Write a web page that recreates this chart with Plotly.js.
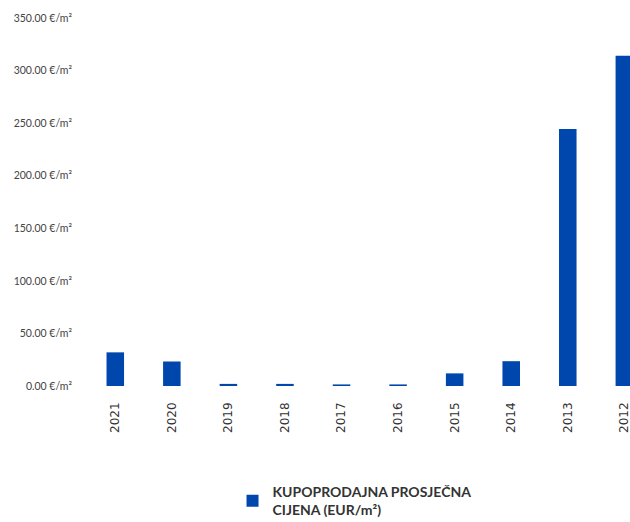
<!DOCTYPE html>
<html>
<head>
<meta charset="utf-8">
<script src="https://cdn.plot.ly/plotly-3.0.1.min.js"></script>
<style>html,body{margin:0;padding:0;background:#fff;}</style>
</head>
<body>
<div id="chart" style="width:630px;height:522px;"></div>
<script>
const years = ["2021","2020","2019","2018","2017","2016","2015","2014","2013","2012"];
const prices = [32, 23.3, 2, 2, 1.5, 1.5, 12, 23.6, 244.4, 314];
const yTickVals = [0, 50, 100, 150, 200, 250, 300, 350];
const yTickText = ["0.00 €/m²","50.00 €/m²","100.00 €/m²","150.00 €/m²","200.00 €/m²","250.00 €/m²","300.00 €/m²","350.00 €/m²"];
const seriesName = "KUPOPRODAJNA PROSJEČNA<br>CIJENA (EUR/m²)";

Plotly.newPlot("chart", [{
  type: "bar",
  x: years,
  y: prices,
  name: seriesName,
  marker: {color: "#0047ad"},
  showlegend: true
}], {
  width: 630, height: 522,
  margin: {l: 87, r: 0, t: 18, b: 135.5, autoexpand: false},
  paper_bgcolor: "#fff", plot_bgcolor: "#fff",
  bargap: 0.69,
  font: {family: "Lato, 'Open Sans', sans-serif", color: "#333"},
  xaxis: {
    type: "category",
    range: [-0.5, 9.1],
    tickangle: -90,
    automargin: false,
    showgrid: false, zeroline: false, showline: false,
    ticks: "", ticklabelstandoff: 13,
    tickfont: {size: 12, color: "#333", family: "'DejaVu Sans', sans-serif"}
  },
  yaxis: {
    range: [0, 350],
    automargin: false,
    tickvals: yTickVals, ticktext: yTickText,
    showgrid: false, zeroline: false, showline: false,
    ticks: "", ticklabelstandoff: 14,
    tickfont: {size: 10.5, color: "#444"}
  },
  showlegend: true,
  legend: {
    x: 0.268, xanchor: "left", y: -0.245, yanchor: "top",
    font: {size: 14, color: "#333", family: "Lato, sans-serif", weight: "bold"},
    itemwidth: 30
  }
}, {displayModeBar: false, staticPlot: true});
</script>
</body>
</html>
